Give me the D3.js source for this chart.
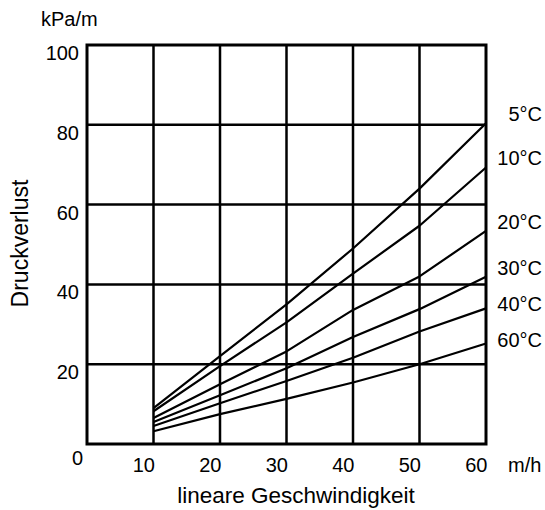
<!DOCTYPE html>
<html>
<head>
<meta charset="utf-8">
<script src="https://cdn.jsdelivr.net/npm/d3@7"></script>
<style>
  body { margin: 0; background: #fff; }
  svg { display: block; font-family: 'Liberation Sans', Arial, sans-serif; }
</style>
</head>
<body>
<svg id="chart"></svg>
<script>
const speeds = [10, 20, 30, 40, 50, 60];
const temps = ['5°C', '10°C', '20°C', '30°C', '40°C', '60°C'];
const loss5 = [9.0, 22.0, 35.0, 49.0, 64.0, 80.4];
const loss10 = [8.2, 19.5, 30.5, 42.7, 54.7, 69.3];
const loss20 = [6.5, 15.0, 23.2, 33.6, 42.0, 53.4];
const loss30 = [5.5, 12.2, 19.0, 26.8, 33.8, 41.9];
const loss40 = [4.5, 10.2, 15.8, 21.6, 28.2, 34.0];
const loss60 = [3.2, 7.5, 11.3, 15.4, 20.0, 25.2];
const xTicks = [10, 20, 30, 40, 50, 60];
const yTicks = [20, 40, 60, 80, 100];

const series = [loss5, loss10, loss20, loss30, loss40, loss60].map((vals, i) => ({
  name: temps[i],
  values: vals.map((v, j) => ({ speed: speeds[j], value: v })),
}));

const width = 545;
const height = 510;
const svg = d3.select('#chart').attr('width', width).attr('height', height);

const x = d3.scaleLinear().domain([0, 60]).range([87, 486]);
const y = d3.scaleLinear().domain([0, 100]).range([444, 45]);

// Grid
svg
  .append('g')
  .attr('stroke', '#000')
  .attr('stroke-width', 2.5)
  .call((g) =>
    g
      .selectAll('line.v')
      .data(xTicks.slice(0, -1))
      .join('line')
      .attr('x1', (d) => x(d))
      .attr('x2', (d) => x(d))
      .attr('y1', y(0))
      .attr('y2', y(100))
  )
  .call((g) =>
    g
      .selectAll('line.h')
      .data(yTicks.slice(0, -1))
      .join('line')
      .attr('x1', x(0))
      .attr('x2', x(60))
      .attr('y1', (d) => y(d))
      .attr('y2', (d) => y(d))
  );

// Curves
const line = d3
  .line()
  .x((d) => x(d.speed))
  .y((d) => y(d.value));

svg
  .append('g')
  .selectAll('path')
  .data(series)
  .join('path')
  .attr('fill', 'none')
  .attr('stroke', '#000')
  .attr('stroke-width', 2.2)
  .attr('stroke-linejoin', 'round')
  .attr('d', (d) => line(d.values));

// Frame
svg
  .append('rect')
  .attr('x', x(0))
  .attr('y', y(100))
  .attr('width', x(60) - x(0))
  .attr('height', y(0) - y(100))
  .attr('fill', 'none')
  .attr('stroke', '#000')
  .attr('stroke-width', 3);

// Y axis
const yAxis = svg
  .append('g')
  .attr('transform', `translate(${x(0)},0)`)
  .call(d3.axisLeft(y).tickValues(yTicks).tickSize(0).tickPadding(8));
yAxis.select('.domain').remove();
yAxis
  .selectAll('text')
  .attr('dy', '0.72em')
  .attr('font-size', 20)
  .attr('font-family', null)
  .attr('fill', '#000');

// X axis
const xAxis = svg
  .append('g')
  .attr('transform', `translate(0,${y(0)})`)
  .call(d3.axisBottom(x).tickValues(xTicks).tickSize(0));
xAxis.select('.domain').remove();
xAxis
  .selectAll('text')
  .attr('text-anchor', 'end')
  .attr('x', 1)
  .attr('y', 28)
  .attr('dy', 0)
  .attr('font-size', 20)
  .attr('font-family', null)
  .attr('fill', '#000');

svg
  .append('text')
  .attr('x', x(0) - 4)
  .attr('y', y(0) + 21)
  .attr('text-anchor', 'end')
  .attr('font-size', 20)
  .text('0');

// Units and titles
svg.append('text').attr('x', 41).attr('y', 26).attr('font-size', 20).text('kPa/m');
svg.append('text').attr('x', 508).attr('y', y(0) + 28).attr('font-size', 20).text('m/h');
svg
  .append('text')
  .attr('x', 296)
  .attr('y', 503)
  .attr('text-anchor', 'middle')
  .attr('font-size', 22.5)
  .text('lineare Geschwindigkeit');
svg
  .append('text')
  .attr('transform', 'translate(28,243.5) rotate(-90)')
  .attr('text-anchor', 'middle')
  .attr('font-size', 23)
  .text('Druckverlust');

// Temperature labels beside line ends, pushed apart where crowded
const labelY = [];
series.forEach((s, i) => {
  let ly = y(s.values[s.values.length - 1].value) - 2;
  if (i > 0 && ly - labelY[i - 1] < 36) ly = labelY[i - 1] + 36;
  labelY.push(ly);
});
svg
  .append('g')
  .selectAll('text')
  .data(series)
  .join('text')
  .attr('x', 542)
  .attr('y', (d, i) => labelY[i])
  .attr('text-anchor', 'end')
  .attr('font-size', 20)
  .text((d) => d.name);
</script>
</body>
</html>
